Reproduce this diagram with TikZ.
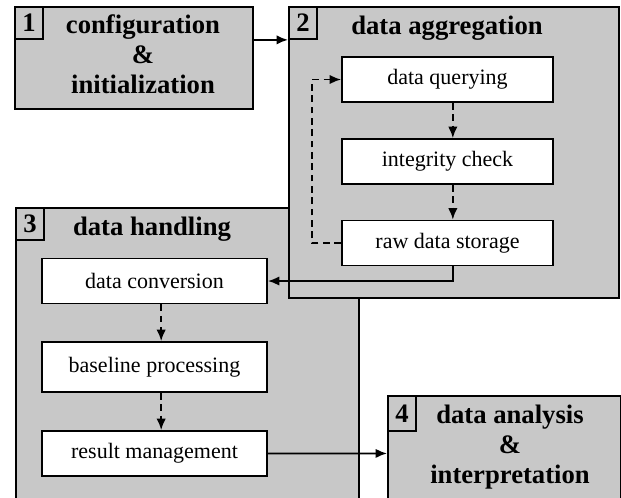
\documentclass[tikz,border=0pt]{standalone}
\usepackage{fontspec}
\setmainfont{Liberation Serif}
\usetikzlibrary{arrows.meta}
\definecolor{boxgray}{RGB}{200,200,200}

\begin{document}
\begin{tikzpicture}[x=0.75pt, y=-0.75pt,
  group/.style={draw, line width=1.4pt, fill=boxgray, anchor=north west, inner sep=0pt},
  numbox/.style={draw, line width=1.4pt, anchor=north west, minimum width=21pt,
    minimum height=24pt, inner sep=0pt, font=\fontsize{20}{20}\selectfont\bfseries},
  title/.style={align=center, inner sep=0pt, font=\fontsize{20}{22.5}\selectfont\bfseries},
  task/.style={draw, line width=1.4pt, fill=white, minimum height=33.75pt, inner sep=0pt,
    font=\fontsize{16.5}{16.5}\selectfont},
  arr/.style={line width=1.4pt, -{Latex[length=8.5pt,width=7pt]}},
  darr/.style={arr, dash pattern=on 5pt off 3.5pt}]
  \clip (0,0) rectangle (621,497);

  \node[group, minimum width=257.25pt, minimum height=227.25pt] (box3) at (15,207) {};
  \node[numbox] (num3) at (box3.north west) {3};
  \node[title] at (152,229) {data handling};

  \node[group, minimum width=247.5pt, minimum height=218.25pt] (box2) at (288,6) {};
  \node[numbox] (num2) at (box2.north west) {2};
  \node[title] at (447,28.5) {data aggregation};

  \node[group, minimum width=178.5pt, minimum height=76.5pt] (box1) at (14,6) {};
  \node[numbox] (num1) at (box1.north west) {1};
  \node[title] at (143,54) {configuration\\\&\\initialization};

  \node[group, minimum width=174.75pt, minimum height=86.25pt] (box4) at (387,395) {};
  \node[numbox, minimum height=26pt] (num4) at (box4.north west) {4};
  \node[title] at (510,447) {data analysis\\\&\\interpretation};

  \node[task, minimum width=158.25pt] (qry) at (447.5,79.5) {data querying};
  \node[task, minimum width=158.25pt] (chk) at (447.5,161.5) {integrity check};
  \node[task, minimum width=158.25pt] (raw) at (447.5,243) {raw data storage};

  \node[task, minimum width=168.75pt] (conv) at (154.5,281) {data conversion};
  \node[task, minimum width=168.75pt, minimum height=37.5pt] (base) at (154.5,367) {baseline processing};
  \node[task, minimum width=168.75pt] (res) at (154.5,453.5) {result management};

  \draw[arr] (num1.south -| box1.east) -- (num1.south -| box2.west);
  \draw[darr] ([xshift=4pt]qry.south) -- ([xshift=4pt]chk.north);
  \draw[darr] ([xshift=4pt]chk.south) -- ([xshift=4pt]raw.north);
  \draw[darr] (raw.west) -- ++(-29,0) |- (qry.west);
  \draw[arr] ([xshift=4pt]raw.south) |- (conv.east);
  \draw[darr] ([xshift=5pt]conv.south) -- ([xshift=5pt]base.north);
  \draw[darr] ([xshift=5pt]base.south) -- ([xshift=5pt]res.north);
  \draw[arr] (res.east) -- (box4.west);
\end{tikzpicture}
\end{document}
